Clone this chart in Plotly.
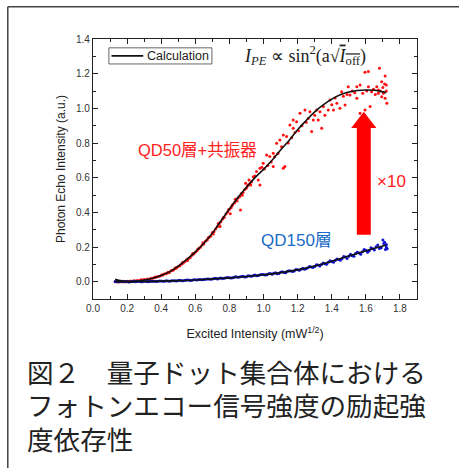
import plotly.graph_objects as go

# ---------------- data ----------------
red_x = [0.13,0.14,0.15,0.16,0.17,0.18,0.19,0.20,0.21,0.22,0.23,0.24,0.25,0.26,0.27,0.28,0.29,0.30,
         0.31,0.32,0.33,0.34,0.35,0.36,0.37,0.38,0.39,0.40,0.41,0.42,0.43,0.44,0.45,0.46,0.47,0.48,
         0.49,0.50,0.51,0.52,0.53,0.54,0.55,0.56,0.57,0.58,0.59,0.60,0.61,0.62,0.63,0.64,0.65,0.66,
         0.67,0.68,0.69,0.70,0.71,0.72,0.73,0.74,0.75,0.76,0.77,0.78,0.79,0.80,0.81,0.82,0.83,0.84,
         0.85,0.86,0.87,0.88,0.89,0.90,0.91,0.92,
         0.135,0.165,0.205,0.245,0.285,0.325,0.365,0.405,0.445,0.485,0.525,0.555,0.585,0.615,0.645,
         0.675,0.705,0.735,0.745,0.765,0.795,0.805,0.815,0.835,0.845,0.865,0.875,0.895,0.905,0.915,0.925,
         0.93,0.94,0.95,0.959,0.969,0.979,0.979,0.99,0.998,1.005,1.018,1.025,1.037,1.045,1.057,1.057,
         1.065,1.077,1.085,1.096,1.106,1.116,1.116,1.125,1.135,1.145,1.155,1.165,1.174,1.174,1.185,
         1.194,1.205,1.214,1.225,1.243,1.25,1.262,1.272,1.282,1.292,1.30,1.312,1.321,1.331,1.341,
         1.351,1.36,1.38,1.39,1.40,1.41,1.42,1.43,1.448,1.458,1.468,1.478,1.49,1.497,1.507,1.52,
         1.535,1.547,1.547,1.566,1.566,1.582,1.595,1.595,1.605,1.615,1.615,1.625,1.634,1.645,1.655,
         1.664,1.673,1.673,1.68,1.685,1.693,1.693,1.70,1.703,1.71,1.713,1.713,1.72,1.723,1.72]
red_y = [0.000,0.001,-0.002,0.002,0.000,0.003,-0.001,0.002,0.001,0.004,0.002,0.005,0.004,0.007,0.006,
         0.009,0.008,0.012,0.011,0.015,0.014,0.019,0.020,0.024,0.025,0.030,0.031,0.037,0.038,0.045,
         0.046,0.054,0.056,0.064,0.066,0.075,0.079,0.088,0.092,0.102,0.108,0.116,0.126,0.133,0.140,
         0.152,0.160,0.170,0.178,0.190,0.199,0.212,0.218,0.235,0.240,0.256,0.262,0.283,0.290,0.305,
         0.318,0.332,0.345,0.362,0.372,0.390,0.402,0.418,0.426,0.445,0.455,0.468,0.482,0.490,0.508,
         0.515,0.532,0.540,0.558,0.565,
         0.003,-0.001,0.000,0.002,0.011,0.013,0.027,0.040,0.052,0.081,0.110,0.122,0.162,0.188,0.225,
         0.252,0.275,0.335,0.318,0.370,0.415,0.392,0.438,0.475,0.465,0.414,0.498,0.568,0.552,0.587,0.558,
         0.577,0.606,0.610,0.635,0.587,0.654,0.558,0.660,0.683,0.650,0.731,0.670,0.722,0.690,0.741,0.664,
         0.720,0.798,0.740,0.818,0.779,0.846,0.654,0.664,0.837,0.800,0.904,0.830,0.933,0.885,0.860,
         0.923,0.870,0.971,0.900,0.991,0.920,0.942,0.981,0.866,0.933,0.960,0.990,0.933,0.980,0.885,
         1.010,0.960,0.990,1.048,1.020,0.990,1.060,1.030,1.000,1.096,1.070,1.019,1.080,1.125,1.077,1.100,
         1.090,1.125,1.058,1.135,0.971,1.087,1.208,0.991,1.100,1.212,1.125,1.010,1.096,1.110,1.080,
         1.125,1.106,1.087,1.231,1.100,1.154,1.067,1.120,1.087,1.140,1.187,1.058,1.135,1.029,1.100]

blue_x = [0.13,0.15,0.17,0.19,0.21,0.23,0.25,0.27,0.29,0.31,0.33,0.35,0.37,0.39,0.41,0.43,0.45,0.47,
          0.49,0.51,0.53,0.55,0.57,0.59,0.61,0.63,0.65,0.67,0.69,0.71,0.73,0.75,0.77,0.79,0.81,0.83,
          0.85,0.87,0.89,0.91,0.93,0.95,0.97,0.99,1.01,1.03,1.05,1.07,1.09,1.11,1.13,1.15,1.17,1.19,
          1.21,1.23,1.25,1.27,1.29,1.31,1.33,1.35,1.37,1.39,1.41,1.43,1.45,1.47,1.49,1.51,1.53,1.55,
          1.57,1.59,1.61,1.63,1.65,1.67,1.69,1.71,
          0.14,0.16,0.18,0.20,0.22,0.24,0.26,0.28,0.30,0.32,0.34,0.36,0.38,0.40,0.42,0.44,0.46,0.48,
          0.50,0.52,0.54,0.56,0.58,0.60,0.62,0.64,0.66,0.68,0.70,0.72,0.74,0.76,0.78,0.80,0.82,0.84,
          0.86,0.88,0.90,0.92,0.94,0.96,0.98,1.00,1.02,1.04,1.06,1.08,1.10,1.12,1.14,1.16,1.18,1.20,
          1.22,1.24,1.26,1.28,1.30,1.32,1.34,1.36,1.38,1.40,1.42,1.44,1.46,1.48,1.50,1.52,1.54,1.56,
          1.58,1.60,1.62,1.64,1.66,1.68,1.70,1.72,
          1.715,1.72,1.705,1.725]
blue_y = [0.001,-0.001,0.002,0.000,-0.002,0.001,0.000,0.002,-0.001,0.002,0.001,0.003,0.001,0.004,
          0.002,0.005,0.003,0.006,0.004,0.008,0.006,0.009,0.007,0.011,0.009,0.013,0.012,0.016,0.014,
          0.018,0.016,0.021,0.019,0.024,0.021,0.027,0.025,0.030,0.027,0.034,0.031,0.038,0.035,0.042,
          0.038,0.046,0.043,0.051,0.047,0.057,0.052,0.063,0.058,0.070,0.066,0.078,0.074,0.087,0.082,
          0.097,0.091,0.108,0.100,0.121,0.112,0.131,0.124,0.145,0.134,0.158,0.146,0.170,0.158,0.186,
          0.170,0.196,0.182,0.212,0.195,0.228,
          0.000,0.001,-0.001,0.001,0.000,0.002,0.001,0.000,0.002,0.000,0.003,0.002,0.002,0.004,0.003,
          0.004,0.006,0.005,0.007,0.006,0.008,0.010,0.008,0.011,0.012,0.011,0.014,0.016,0.015,0.019,
          0.020,0.018,0.023,0.023,0.022,0.028,0.027,0.031,0.029,0.033,0.035,0.034,0.040,0.041,0.040,
          0.047,0.049,0.046,0.054,0.053,0.060,0.062,0.061,0.069,0.071,0.072,0.080,0.084,0.088,0.096,
          0.099,0.104,0.112,0.116,0.122,0.128,0.132,0.142,0.147,0.150,0.163,0.165,0.172,0.181,0.178,
          0.190,0.201,0.192,0.241,0.200,
          0.185,0.215,0.220,0.190]

calc_red_x = [0.13,0.15,0.20,0.25,0.30,0.35,0.40,0.45,0.50,0.55,0.60,0.65,0.70,0.75,0.80,0.85,0.90,
              0.95,1.00,1.05,1.10,1.15,1.20,1.25,1.30,1.35,1.40,1.45,1.50,1.55,1.60,1.65,1.70,1.72]
calc_red_y = [0.014,0.008,0.001,0.002,0.010,0.020,0.036,0.058,0.090,0.128,0.172,0.222,0.280,0.350,
              0.420,0.485,0.545,0.600,0.648,0.700,0.760,0.815,0.877,0.930,0.980,1.020,1.053,1.078,
              1.094,1.103,1.106,1.104,1.095,1.090]

calc_blue_x = [0.13,0.20,0.30,0.40,0.50,0.60,0.70,0.80,0.90,1.00,1.10,1.20,1.30,1.40,1.50,1.60,1.70,1.72]
calc_blue_y = [0.000,0.000,0.001,0.003,0.006,0.010,0.016,0.022,0.030,0.040,0.052,0.068,0.090,0.118,
               0.148,0.178,0.206,0.210]

x_ticks = [0.0,0.2,0.4,0.6,0.8,1.0,1.2,1.4,1.6,1.8]
y_ticks = [0.0,0.2,0.4,0.6,0.8,1.0,1.2,1.4]

legend_label = "Calculation"
caption_lines = ["図２　量子ドット集合体における",
                 "フォトンエコー信号強度の励起強",
                 "度依存性"]

# arrow geometry (annotation, data units)
arrow_cx = 1.588
arrow_bar_half = 0.041
arrow_head_half = 0.074
arrow_bottom = 0.27
arrow_head_base = 0.887
arrow_tip = 0.98

LATIN = "Liberation Sans, Arial, Noto Sans CJK JP, sans-serif"
CALC_COLOR = "#111111"

fig = go.Figure()
fig.add_trace(go.Scatter(x=red_x, y=red_y, mode="markers",
                         marker=dict(color="#ff1010", size=3, line=dict(width=0)),
                         showlegend=False, hoverinfo="skip"))
fig.add_trace(go.Scatter(x=blue_x, y=blue_y, mode="markers",
                         marker=dict(color="#1010d0", size=3, line=dict(width=0)),
                         showlegend=False, hoverinfo="skip"))
fig.add_trace(go.Scatter(x=calc_red_x, y=calc_red_y, mode="lines", line_shape="spline",
                         line=dict(color=CALC_COLOR, width=1.6), name=legend_label,
                         showlegend=False))
fig.add_trace(go.Scatter(x=calc_blue_x, y=calc_blue_y, mode="lines", line_shape="spline",
                         line=dict(color=CALC_COLOR, width=1.6), name=legend_label,
                         showlegend=False))

axis_common = dict(showline=True, linecolor="#222222", linewidth=1.3, mirror="ticks",
                   ticks="inside", ticklen=5, tickwidth=1.2, tickcolor="#222222",
                   showgrid=False, zeroline=False, automargin=False,
                   tickfont=dict(family=LATIN, size=10, color="#333333"),
                   minor=dict(ticks="inside", ticklen=3, tickcolor="#222222", tickwidth=1.1,
                              dtick=0.1, showgrid=False))

fig.update_xaxes(range=[0, 1.9], tickvals=x_ticks, ticktext=[f"{v:.1f}" for v in x_ticks],
                 title=dict(text="Excited Intensity (mW<sup>1/2</sup>)",
                            font=dict(family=LATIN, size=12.5, color="#222222"), standoff=16),
                 **axis_common)
fig.update_yaxes(range=[-0.1, 1.4], tickvals=y_ticks, ticktext=[f"{v:.1f}" for v in y_ticks],
                 title=dict(text="Photon Echo Intensity (a.u.)",
                            font=dict(family=LATIN, size=12, color="#222222"), standoff=7),
                 **axis_common)

path = (f"M {arrow_cx-arrow_bar_half},{arrow_bottom} L {arrow_cx+arrow_bar_half},{arrow_bottom} "
        f"L {arrow_cx+arrow_bar_half},{arrow_head_base} L {arrow_cx+arrow_head_half},{arrow_head_base} "
        f"L {arrow_cx},{arrow_tip} L {arrow_cx-arrow_head_half},{arrow_head_base} "
        f"L {arrow_cx-arrow_bar_half},{arrow_head_base} Z")

shapes = [
    dict(type="path", path=path, xref="x", yref="y", fillcolor="#ff0000",
         line=dict(width=0), layer="above"),
    # legend box and sample line
    dict(type="rect", xref="paper", yref="paper", x0=0.049, y0=0.904, x1=0.367, y1=0.966,
         line=dict(color="#666666", width=1), fillcolor="white", layer="above"),
    dict(type="line", xref="paper", yref="paper", x0=0.057, y0=0.935, x1=0.155, y1=0.935,
         line=dict(color=CALC_COLOR, width=1.8), layer="above"),
    # outer frame (top and left edges)
    dict(type="line", xref="paper", yref="paper", x0=-0.263, y0=1.124, x1=1.2, y1=1.124,
         line=dict(color="#444444", width=1.5)),
    dict(type="line", xref="paper", yref="paper", x0=-0.263, y0=1.124, x1=-0.263, y1=-0.75,
         line=dict(color="#444444", width=1.5)),
]

annotations = [
    dict(text=legend_label, x=0.160, y=0.935, xref="paper", yref="paper",
         xanchor="left", yanchor="middle", showarrow=False,
         font=dict(family=LATIN, size=12.5, color="#222222")),
    dict(text="<i>I<sub>PE</sub></i> ∝ sin<sup>2</sup>(a√<span style='text-decoration:overline'><i>I</i><sub>off</sub></span>)",
         x=0.655, y=0.937, xref="paper", yref="paper", xanchor="center", yanchor="middle",
         showarrow=False,
         font=dict(family="Liberation Serif, Times New Roman, serif", size=18, color="#222222")),
    dict(text="QD50層+共振器", x=0.612, y=0.76, xref="x", yref="y", showarrow=False,
         font=dict(family=LATIN, size=16.5, color="#ff2020")),
    dict(text="QD150層", x=1.193, y=0.24, xref="x", yref="y", showarrow=False,
         font=dict(family=LATIN, size=17, color="#1a6cc8")),
    dict(text="×10", x=1.752, y=0.578, xref="x", yref="y", showarrow=False,
         font=dict(family=LATIN, size=17, color="#ff2020")),
]
for line, ypos in zip(caption_lines, [-0.277, -0.406, -0.535]):
    annotations.append(dict(text=line, x=-0.206, y=ypos, xref="paper", yref="paper",
                            xanchor="left", yanchor="middle", align="left", showarrow=False,
                            borderpad=0,
                            font=dict(family="Noto Sans CJK JP", size=26.6, color="#222222")))

fig.update_layout(
    width=459, height=468,
    margin=dict(l=93, r=42, t=39, b=169, autoexpand=False),
    paper_bgcolor="white", plot_bgcolor="white",
    shapes=shapes, annotations=annotations,
    showlegend=False,
)

fig.write_html("out.html", config={"displayModeBar": False},
               post_script="document.body.style.margin='0';document.body.style.overflow='hidden';")
